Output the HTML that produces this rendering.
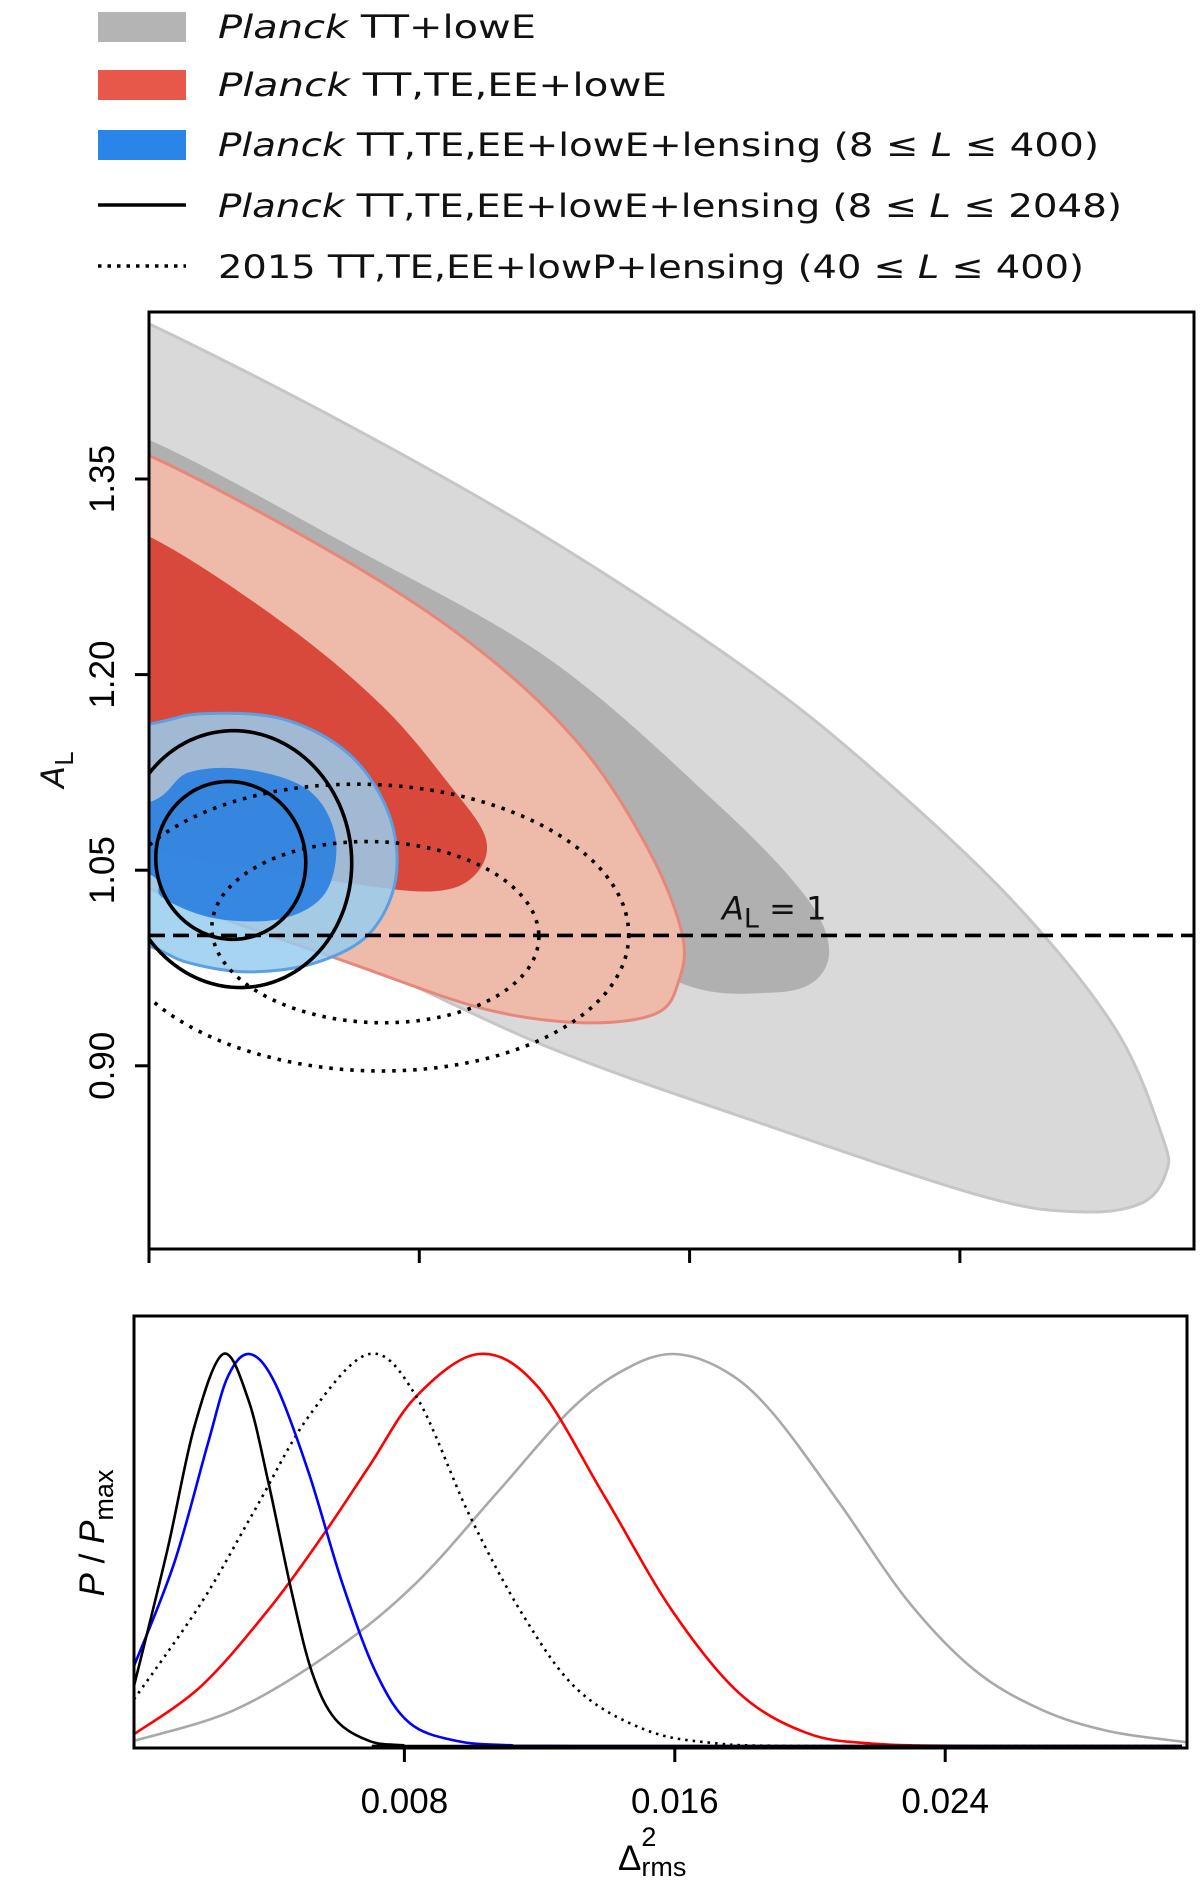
<!DOCTYPE html>
<html><head><meta charset="utf-8">
<style>
html,body{margin:0;padding:0;background:#fff;}
svg{display:block;}
.tk{font-family:"Liberation Sans Narrow","Liberation Sans",sans-serif;font-size:35px;fill:#000;}
.lg{font-family:"DejaVu Sans","Liberation Sans",sans-serif;font-size:32px;fill:#111;}
</style></head>
<body>
<svg id="chart" width="1200" height="1881" viewBox="0 0 1200 1881" xmlns="http://www.w3.org/2000/svg">
<defs>
<clipPath id="clipTop"><rect x="149" y="312" width="1045" height="937"/></clipPath>
<clipPath id="clipBot"><rect x="134" y="1316" width="1053" height="432"/></clipPath>
</defs>
<g id="legend">
  <rect x="98" y="12" width="88" height="30" fill="#b4b4b4"/>
  <text class="lg" x="218" y="38" textLength="318" lengthAdjust="spacingAndGlyphs"><tspan font-style="italic">Planck</tspan> TT+lowE</text>
  <rect x="98" y="70" width="88" height="30" fill="#e8584a"/>
  <text class="lg" x="218" y="96" textLength="449" lengthAdjust="spacingAndGlyphs"><tspan font-style="italic">Planck</tspan> TT,TE,EE+lowE</text>
  <rect x="98" y="130" width="88" height="30" fill="#2a85e8"/>
  <text class="lg" x="218" y="156" textLength="881" lengthAdjust="spacingAndGlyphs"><tspan font-style="italic">Planck</tspan> TT,TE,EE+lowE+lensing (8 ≤ <tspan font-style="italic">L</tspan> ≤ 400)</text>
  <line x1="98" y1="205" x2="186" y2="205" stroke="#000" stroke-width="3.5"/>
  <text class="lg" x="218" y="217" textLength="904" lengthAdjust="spacingAndGlyphs"><tspan font-style="italic">Planck</tspan> TT,TE,EE+lowE+lensing (8 ≤ <tspan font-style="italic">L</tspan> ≤ 2048)</text>
  <line x1="98" y1="266" x2="186" y2="266" stroke="#000" stroke-width="3.5" stroke-dasharray="3.5,6"/>
  <text class="lg" x="218" y="278" textLength="866" lengthAdjust="spacingAndGlyphs">2015 TT,TE,EE+lowP+lensing (40 ≤ <tspan font-style="italic">L</tspan> ≤ 400)</text>
</g>
<g id="topPanel"></g>
<g id="botPanel"></g>
</svg>
<script>
const NS="http://www.w3.org/2000/svg";
// ---- top panel data (x = Delta^2_rms, y = A_L) ----
const xTicksTop=[0,0.008,0.016,0.024];
const yTicksTop=[0.90,1.05,1.20,1.35];
const yTickLabels=["0.90","1.05","1.20","1.35"];
const grayOuterX=[-0.003,0,0.00592,0.01184,0.01776,0.0217,0.02565,0.02861,0.0300,0.0301,0.0294,0.0276,0.02466,0.01776,0.01184,0.00592,0.00099,0,-0.003];
const grayOuterY=[1.50,1.469,1.391,1.304,1.203,1.121,1.024,0.928,0.845,0.818,0.795,0.788,0.800,0.859,0.914,0.983,1.024,1.036,1.06];
const grayInnerX=[-0.003,0,0.00592,0.01184,0.01677,0.01934,0.02012,0.0197,0.01835,0.01578,0.01184,0,-0.003];
const grayInnerY=[1.40,1.38,1.299,1.212,1.102,1.033,0.992,0.965,0.956,0.963,1.02,1.111,1.13];
const redOuterX=[-0.003,0,0.00592,0.00987,0.01282,0.0148,0.01578,0.01568,0.0150,0.01282,0.00987,0.00592,0.00197,0,-0.003];
const redOuterY=[1.39,1.368,1.286,1.217,1.144,1.065,1.001,0.965,0.940,0.933,0.944,0.979,1.015,1.036,1.06];
const redInnerX=[-0.003,0,0.00395,0.0069,0.00888,0.00996,0.00967,0.00849,0.00592,0,-0.003];
const redInnerY=[1.33,1.306,1.24,1.176,1.116,1.075,1.047,1.034,1.04,1.065,1.08];
const blueOuterX=[-0.003,0,0.00158,0.00395,0.00592,0.0071,0.0073,0.00651,0.00493,0.00296,0.00118,0,-0.003];
const blueOuterY=[1.15,1.162,1.17,1.166,1.139,1.093,1.043,1.001,0.979,0.972,0.979,0.992,1.02];
const blueInnerX=[-0.003,0,0.00118,0.00296,0.00474,0.00552,0.00523,0.00395,0.00197,0.0004,0,-0.003];
const blueInnerY=[1.09,1.102,1.125,1.127,1.111,1.075,1.033,1.013,1.013,1.029,1.047,1.07];
// ellipse contours: [centerX, centerY, halfRangeX, halfRangeY, phase]
const blackOuter=[0.0026,1.0585,0.0034,0.0985,1.6];
const blackInner=[0.00242,1.0575,0.00222,0.0605,1.6];
const dotOuter=[0.00651,1.006,0.00769,0.110,1.62];
const dotInner=[0.0067,1.0025,0.00484,0.0695,1.62];
const refLine=1.0;
// ---- bottom panel data ----
const xTicksBot=[0.008,0.016,0.024];
const xTickLabels=["0.008","0.016","0.024"];
const blackX=[0,0.00099,0.00179,0.00264,0.00338,0.00398,0.00467,0.00527,0.00596,0.00696,0.00795,0.009,0.031];
const blackP=[0.153,0.501,0.816,1,0.884,0.671,0.391,0.187,0.068,0.013,0.002,0,0];
const blueX=[0,0.00119,0.00219,0.00278,0.00342,0.00417,0.00517,0.00616,0.00716,0.00815,0.00954,0.0111,0.013,0.031];
const blueP=[0.204,0.467,0.773,0.943,1,0.926,0.697,0.416,0.187,0.059,0.013,0.002,0,0];
const dotX=[0,0.00199,0.00358,0.00517,0.00696,0.00835,0.00994,0.01153,0.01312,0.01511,0.0171,0.02,0.031];
const dotP=[0.119,0.365,0.603,0.841,1,0.892,0.586,0.331,0.144,0.042,0.008,0,0];
const redX=[0,0.00199,0.00398,0.00557,0.00696,0.00835,0.0102,0.01193,0.01392,0.0159,0.01789,0.01988,0.02187,0.025,0.031];
const redP=[0.03,0.153,0.348,0.535,0.714,0.892,1,0.918,0.637,0.348,0.136,0.034,0.006,0,0];
const grayX=[0,0.003,0.00596,0.00835,0.01074,0.01292,0.01451,0.01596,0.0175,0.01889,0.02087,0.02286,0.02485,0.02684,0.02883,0.03111];
const grayP=[0.013,0.093,0.246,0.416,0.646,0.858,0.96,1,0.956,0.85,0.62,0.374,0.195,0.093,0.038,0.01];

// scales
const tx=v=>149+v*33787;
const ty=v=>479-(v-1.35)*1304;
const bx=v=>134+v*33800;
const by=v=>1746-v*392;

function mk(tag,attrs,parent){const e=document.createElementNS(NS,tag);for(const k in attrs)e.setAttribute(k,attrs[k]);parent.appendChild(e);return e;}
function smoothClosed(pts){
  const n=pts.length;let d=`M${pts[0][0]},${pts[0][1]}`;
  for(let i=0;i<n;i++){const p0=pts[(i-1+n)%n],p1=pts[i],p2=pts[(i+1)%n],p3=pts[(i+2)%n];
    d+=`C${p1[0]+(p2[0]-p0[0])/6},${p1[1]+(p2[1]-p0[1])/6} ${p2[0]-(p3[0]-p1[0])/6},${p2[1]-(p3[1]-p1[1])/6} ${p2[0]},${p2[1]}`;}
  return d+"Z";
}
function smoothOpen(pts){
  const n=pts.length;let d=`M${pts[0][0]},${pts[0][1]}`;
  for(let i=0;i<n-1;i++){const p0=pts[Math.max(i-1,0)],p1=pts[i],p2=pts[i+1],p3=pts[Math.min(i+2,n-1)];
    let c1y=p1[1]+(p2[1]-p0[1])/6,c2y=p2[1]-(p3[1]-p1[1])/6;
    c1y=Math.min(c1y,1746);c2y=Math.min(c2y,1746);
    d+=`C${p1[0]+(p2[0]-p0[0])/6},${c1y} ${p2[0]-(p3[0]-p1[0])/6},${c2y} ${p2[0]},${p2[1]}`;}
  return d;
}
function polyPts(xs,ys){return xs.map((x,i)=>[tx(x),ty(ys[i])]);}
function ellPath(e){const [cx,cy,rx,ry,ph]=e;let d="";
  for(let i=0;i<=120;i++){const t=i/120*2*Math.PI;const X=tx(cx+rx*Math.cos(t)),Y=ty(cy+ry*Math.cos(t+ph));d+=(i?"L":"M")+X+","+Y;}
  return d+"Z";}

const topG=document.getElementById('topPanel');
const g=mk('g',{'clip-path':'url(#clipTop)'},topG);
const fills=[
 [grayOuterX,grayOuterY,'#d9d9d9','#c6c6c6',1,'contour-tt-lowe-95'],
 [grayInnerX,grayInnerY,'#b0b0b0','none',1,'contour-tt-lowe-68'],
 [redOuterX,redOuterY,'#eebaa9','#e6877c',1,'contour-tt-te-ee-95'],
 [redInnerX,redInnerY,'#d9493b','none',1,'contour-tt-te-ee-68'],
 [blueOuterX,blueOuterY,'#96cdee','#5c9fe2',0.85,'contour-lensing-400-95'],
 [blueInnerX,blueInnerY,'#2a7fe0','none',0.9,'contour-lensing-400-68']];
for(const f of fills){
  const p=mk('path',{d:smoothClosed(polyPts(f[0],f[1])),fill:f[2],stroke:f[3],'stroke-width':3,'fill-opacity':f[4]},g);
  
  
}
const ells=[[blackOuter,'none','contour-lensing-2048-95'],[blackInner,'none','contour-lensing-2048-68'],[dotOuter,'3.5,7','contour-2015-95'],[dotInner,'3.5,7','contour-2015-68']];
for(const e of ells){
  const p=mk('path',{d:ellPath(e[0]),fill:'none',stroke:'#000','stroke-width':3.6,'stroke-dasharray':e[1]},g);
  
  
}
const rl=mk('line',{x1:149,x2:1194,y1:ty(refLine),y2:ty(refLine),stroke:'#000','stroke-width':3.6,'stroke-dasharray':'16,8'},g);


const rlt=mk('text',{x:722,y:ty(refLine)-16,class:'lg','font-size':'42'},topG);


rlt.innerHTML='<tspan font-style="italic">A</tspan><tspan font-size="27" dy="8">L</tspan><tspan dy="-8"> = 1</tspan>';
const fr=mk('rect',{x:149,y:312,width:1045,height:937,fill:'none',stroke:'#000','stroke-width':3},topG);


for(const v of xTicksTop){const t=mk('line',{x1:tx(v),x2:tx(v),y1:1249,y2:1263,stroke:'#000','stroke-width':3},topG);
  
  }
yTicksTop.forEach((v,i)=>{const t=mk('line',{x1:135,x2:149,y1:ty(v),y2:ty(v),stroke:'#000','stroke-width':3},topG);
  
  
  const l=mk('text',{class:'tk',x:0,y:0,'text-anchor':'middle',transform:`translate(114,${ty(v)}) rotate(-90)`},topG);
  
  
  l.textContent=yTickLabels[i];});
const yl=mk('text',{class:'lg','font-size':'40',x:0,y:0,'text-anchor':'middle',transform:'translate(64,770) rotate(-90)'},topG);


yl.innerHTML='<tspan font-style="italic">A</tspan><tspan font-size="25" dy="9">L</tspan>';

const botG=document.getElementById('botPanel');
const gb=mk('g',{'clip-path':'url(#clipBot)'},botG);
const curves=[[grayX,grayP,'#a9a9a9','none','curve-tt-lowe'],[redX,redP,'#ff0000','none','curve-tt-te-ee'],[dotX,dotP,'#000','2.5,5','curve-2015'],[blueX,blueP,'#0000ff','none','curve-lensing-400'],[blackX,blackP,'#000','none','curve-lensing-2048']];
for(const c of curves){
  const pts=c[0].map((x,i)=>[bx(x),by(c[1][i])]);
  const p=mk('path',{d:smoothOpen(pts),fill:'none',stroke:c[2],'stroke-width':2.6,'stroke-dasharray':c[3]},gb);
  
  
}
const fb=mk('rect',{x:134,y:1316,width:1053,height:432,fill:'none',stroke:'#000','stroke-width':3},botG);


xTicksBot.forEach((v,i)=>{const t=mk('line',{x1:bx(v),x2:bx(v),y1:1748,y2:1762,stroke:'#000','stroke-width':3},botG);
  
  
  const l=mk('text',{class:'tk',x:bx(v),y:1813,'text-anchor':'middle'},botG);
  
  
  l.textContent=xTickLabels[i];});
const xl=mk('text',{class:'tk','font-size':'44',x:618,y:1870},botG);


xl.innerHTML='Δ<tspan font-size="27" dy="-24">2</tspan><tspan font-size="27" dx="-15" dy="30">rms</tspan>';
const pl=mk('text',{class:'tk','font-size':'44',x:0,y:0,'text-anchor':'middle',transform:'translate(104,1533) rotate(-90)'},botG);


pl.innerHTML='<tspan font-style="italic">P</tspan> / <tspan font-style="italic">P</tspan><tspan font-size="27" dy="9">max</tspan>';
</script>
</body></html>
